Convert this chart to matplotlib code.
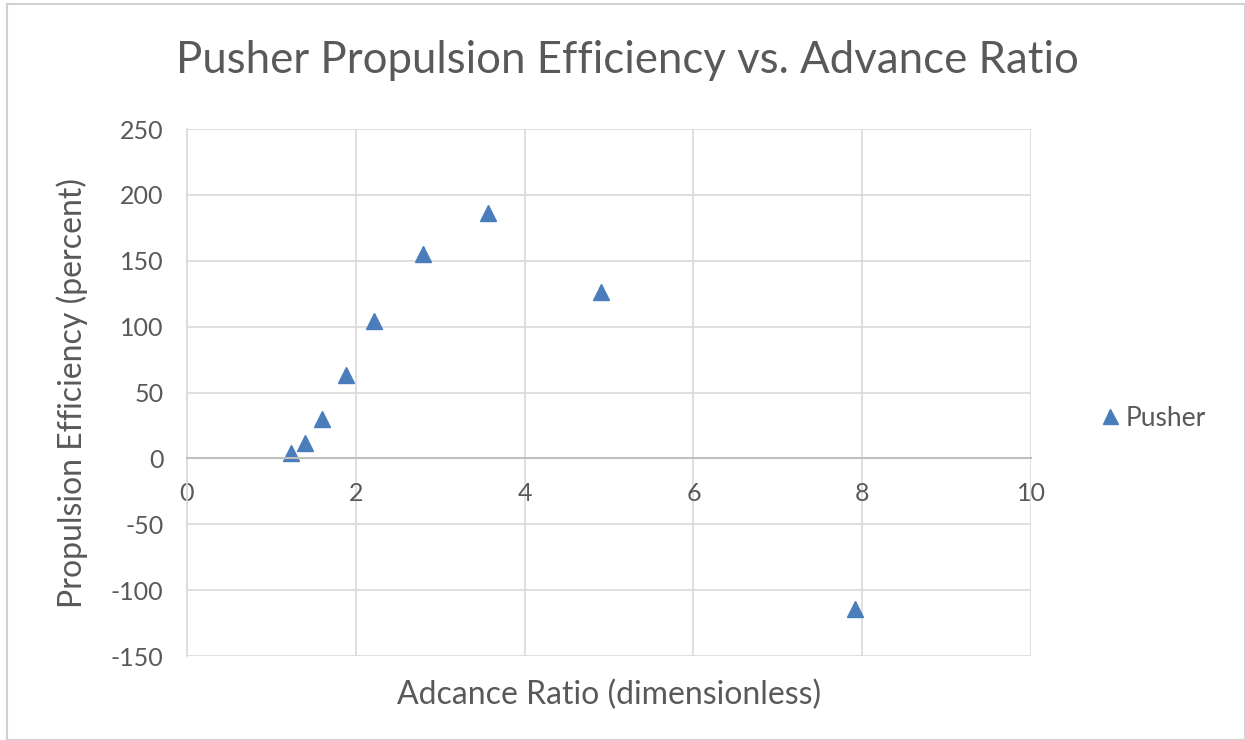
import matplotlib
matplotlib.use("Agg")
import matplotlib.pyplot as plt
from matplotlib.patches import Rectangle

# Advance ratio vs. propulsion efficiency for the pusher configuration
advance_ratio = [1.23, 1.40, 1.60, 1.88, 2.22, 2.80, 3.57, 4.91, 7.91]
efficiency = [3.8, 11.4, 29.6, 63.0, 104.0, 155.0, 186.0, 126.0, -114.0]
series_name = "Pusher"

x_ticks = [0, 2, 4, 6, 8, 10]
y_ticks = [-150, -100, -50, 0, 50, 100, 150, 200, 250]

plt.rcParams["axes.unicode_minus"] = False

FONT = "Lato"
TEXT = "#595959"
GRID = "#d9d9d9"
BLUE = "#4a7ebb"

fig = plt.figure(figsize=(12.45, 7.4), dpi=100)
fig.patches.append(Rectangle((0.006, 0.0), 0.994, 0.995, transform=fig.transFigure,
                             fill=False, edgecolor="#d0d0d0", linewidth=1.5))

ax = fig.add_axes([0.1502, 0.1135, 0.678, 0.712])
ax.set_xlim(0, 10)
ax.set_ylim(-150, 250)
ax.set_xticks(x_ticks)
ax.set_yticks(y_ticks)
ax.grid(True, color=GRID, linewidth=1.2)
ax.set_axisbelow(True)

for side in ("top", "right"):
    ax.spines[side].set_visible(False)
ax.spines["left"].set_color(GRID)
ax.spines["left"].set_linewidth(1.2)
ax.spines["bottom"].set_position(("data", 0))
ax.spines["bottom"].set_color("#bfbfbf")
ax.spines["bottom"].set_linewidth(1.5)

ax.tick_params(axis="both", length=0, labelcolor=TEXT, labelsize=18)
ax.tick_params(axis="x", pad=17)
ax.tick_params(axis="y", pad=17)
for lbl in ax.get_xticklabels() + ax.get_yticklabels():
    lbl.set_fontfamily(FONT)

ax.plot(advance_ratio, efficiency, linestyle="none", marker="^", markersize=12,
        color=BLUE, label=series_name)

ax.set_xlabel("Adcance Ratio (dimensionless)", fontsize=23, color=TEXT,
              fontfamily=FONT, labelpad=0)
ax.xaxis.set_label_coords(0.5, -0.045)
ax.set_ylabel("Propulsion Efficiency (percent)", fontsize=23, color=TEXT,
              fontfamily=FONT)
ax.yaxis.set_label_coords(-0.117, 0.5)

fig.text(0.504, 0.918, "Pusher Propulsion Efficiency vs. Advance Ratio",
         ha="center", va="center", fontsize=31.5, color=TEXT, fontfamily=FONT)

leg = fig.legend(loc="center left", bbox_to_anchor=(0.862, 0.435), frameon=False,
                 handletextpad=0.1, handlelength=1.0, markerscale=0.9,
                 prop={"family": FONT, "size": 19})
for t in leg.get_texts():
    t.set_color(TEXT)

fig.savefig("out.png", dpi=100, facecolor="white")
